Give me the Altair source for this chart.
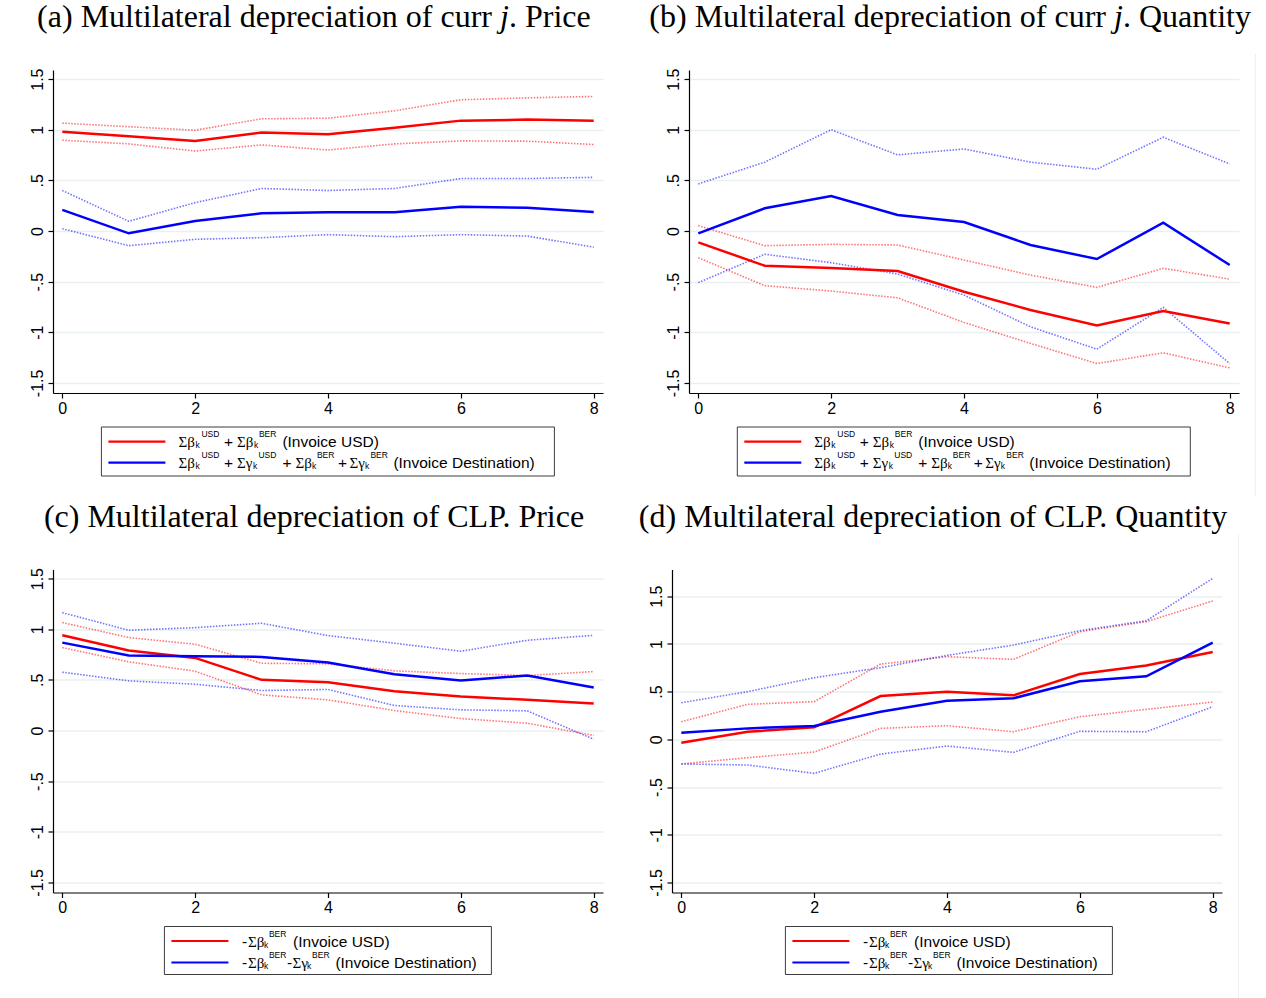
import altair as alt
import pandas as pd

# ---------------------------------------------------------------------------
# Cumulative responses by horizon (k = 0..8) with upper / lower bands
# ---------------------------------------------------------------------------
STEPS = [0, 1, 2, 3, 4, 5, 6, 7, 8]

# (a) multilateral depreciation of currency j, price
A_USD = [0.98, 0.935, 0.89, 0.973, 0.956, 1.02, 1.09, 1.10, 1.09]
A_USD_HI = [1.065, 1.03, 0.995, 1.108, 1.114, 1.187, 1.296, 1.315, 1.329]
A_USD_LO = [0.897, 0.86, 0.79, 0.85, 0.80, 0.86, 0.89, 0.887, 0.854]
A_DST = [0.208, -0.023, 0.099, 0.175, 0.185, 0.185, 0.24, 0.23, 0.188]
A_DST_HI = [0.40, 0.096, 0.28, 0.42, 0.40, 0.42, 0.518, 0.518, 0.53]
A_DST_LO = [0.023, -0.145, -0.082, -0.066, -0.036, -0.056, -0.036, -0.05, -0.16]

# (b) multilateral depreciation of currency j, quantity
B_USD = [-0.112, -0.343, -0.366, -0.396, -0.60, -0.78, -0.933, -0.79, -0.913]
B_USD_HI = [0.053, -0.145, -0.132, -0.138, -0.287, -0.435, -0.557, -0.369, -0.475]
B_USD_LO = [-0.264, -0.54, -0.593, -0.66, -0.903, -1.11, -1.309, -1.203, -1.352]
B_DST = [-0.023, 0.224, 0.346, 0.158, 0.089, -0.138, -0.277, 0.082, -0.336]
B_DST_HI = [0.465, 0.68, 1.0, 0.752, 0.81, 0.68, 0.61, 0.926, 0.663]
B_DST_LO = [-0.51, -0.23, -0.313, -0.425, -0.633, -0.946, -1.167, -0.755, -1.309]

# (c) multilateral depreciation of CLP, price
C_USD = [0.94, 0.79, 0.717, 0.50, 0.477, 0.388, 0.336, 0.303, 0.266]
C_USD_HI = [1.066, 0.918, 0.852, 0.664, 0.658, 0.589, 0.5625, 0.543, 0.582]
C_USD_LO = [0.819, 0.678, 0.586, 0.352, 0.303, 0.197, 0.118, 0.072, -0.049]
C_DST = [0.868, 0.74, 0.734, 0.727, 0.671, 0.556, 0.493, 0.543, 0.424]
C_DST_HI = [1.164, 0.99, 1.016, 1.059, 0.9375, 0.862, 0.783, 0.891, 0.94]
C_DST_LO = [0.576, 0.49, 0.457, 0.395, 0.405, 0.247, 0.204, 0.194, -0.086]

# (d) multilateral depreciation of CLP, quantity
D_USD = [-0.035, 0.08, 0.126, 0.454, 0.50, 0.461, 0.685, 0.775, 0.915]
D_USD_HI = [0.185, 0.367, 0.395, 0.789, 0.866, 0.838, 1.128, 1.233, 1.45]
D_USD_LO = [-0.258, -0.192, -0.133, 0.115, 0.143, 0.08, 0.237, 0.314, 0.391]
D_DST = [0.07, 0.115, 0.14, 0.29, 0.405, 0.43, 0.608, 0.66, 1.013]
D_DST_HI = [0.384, 0.50, 0.646, 0.751, 0.88, 0.988, 1.139, 1.243, 1.687]
D_DST_LO = [-0.258, -0.269, -0.356, -0.154, -0.07, -0.136, 0.084, 0.08, 0.342]

X_TICKS = [0, 2, 4, 6, 8]
Y_TICKS = [-1.5, -1, -0.5, 0, 0.5, 1, 1.5]

# ---------------------------------------------------------------------------
# Styling
# ---------------------------------------------------------------------------
RED = "#ff0000"
BLUE = "#0000ff"
SANS = "Liberation Sans"
SERIF = "Liberation Serif"
W, H = 550, 323
X_DOMAIN = [-0.14, 8.14]
Y_LABEL_EXPR = ("(datum.value < 0 ? '-' : '') + "
                "(abs(datum.value) == 0.5 ? '.5' : toString(abs(datum.value)))")

ONE = pd.DataFrame({"k": [0]})


def long_table(usd, usd_lo, usd_hi, dst, dst_lo, dst_hi):
    rows = []
    for name, band, vals in (("usd", "est", usd), ("usd", "lo", usd_lo),
                             ("usd", "hi", usd_hi), ("dest", "est", dst),
                             ("dest", "lo", dst_lo), ("dest", "hi", dst_hi)):
        for s, v in zip(STEPS, vals):
            rows.append({"step": s, "value": v, "series": name, "band": band})
    return pd.DataFrame(rows)


def data_layers(df, ydom):
    x = alt.X("step:Q",
              scale=alt.Scale(domain=X_DOMAIN, nice=False, zero=False),
              axis=alt.Axis(values=X_TICKS, title=None, grid=False, format="d",
                            labelPadding=2, labelFlush=False))
    y = alt.Y("value:Q",
              scale=alt.Scale(domain=ydom, nice=False, zero=False),
              axis=alt.Axis(values=Y_TICKS, title=None, grid=True,
                            labelExpr=Y_LABEL_EXPR, labelAngle=270,
                            labelAlign="center", labelBaseline="alphabetic",
                            labelPadding=6, labelFlush=False))
    base = alt.Chart(df).encode(x=x, y=y, detail="band:N")
    layers = []
    for series, color in (("usd", RED), ("dest", BLUE)):
        layers.append(
            base.transform_filter(
                f"datum.series == '{series}' && datum.band != 'est'")
            .mark_line(color=color, strokeDash=[1.5, 1.5], strokeWidth=1.6,
                       opacity=0.55))
    for series, color in (("usd", RED), ("dest", BLUE)):
        layers.append(
            base.transform_filter(
                f"datum.series == '{series}' && datum.band == 'est'")
            .mark_line(color=color, strokeWidth=2.5))
    return layers


def txt(s, x, y, size, font=SANS, style="normal", align="left",
        baseline="alphabetic", color="#000000"):
    return alt.Chart(ONE).mark_text(
        text=s, font=font, fontSize=size, fontStyle=style, align=align,
        baseline=baseline, color=color).encode(x=alt.value(x), y=alt.value(y))


def legend(bx, by, bw, bh, rows):
    """Boxed legend; each row is (center offset, colour, text pieces)."""
    out = [alt.Chart(ONE).mark_rect(fill="white", stroke="#3c3c3c",
                                    strokeWidth=1)
           .encode(x=alt.value(bx), x2=alt.value(bx + bw),
                   y=alt.value(by), y2=alt.value(by + bh))]
    for dy, color, pieces in rows:
        r = by + dy
        out.append(alt.Chart(ONE).mark_rule(color=color, strokeWidth=2.2)
                   .encode(x=alt.value(bx + 7), x2=alt.value(bx + 64),
                           y=alt.value(r)))
        for text, dx, kind in pieces:
            if kind == "main":
                out.append(txt(text, bx + dx, r + 5.5, 15.5))
            elif kind == "greek":
                out.append(txt(text, bx + dx, r + 5.5, 15, font=SERIF))
            elif kind == "sup":
                out.append(txt(text, bx + dx, r - 4.5, 8.5))
            else:
                out.append(txt(text, bx + dx, r + 6.5, 8.5))
    return out


def title_italic_j(before, after, split):
    return [txt(before, split - 8, -43, 32, font=SERIF, align="right"),
            txt("j", split, -43, 32, font=SERIF, style="italic"),
            txt(after, split + 9, -43, 32, font=SERIF)]


ROWS_AB = [
    (14.7, RED, [("Σβ", 77, "greek"), ("k", 94, "sub"), ("USD", 100, "sup"),
                 ("+", 122.5, "main"), ("Σβ", 135.5, "greek"),
                 ("k", 152.5, "sub"), ("BER", 157.5, "sup"),
                 ("(Invoice USD)", 181, "main")]),
    (35.7, BLUE, [("Σβ", 77, "greek"), ("k", 94, "sub"), ("USD", 100, "sup"),
                  ("+", 122.5, "main"), ("Σγ", 135.5, "greek"),
                  ("k", 151.5, "sub"), ("USD", 157, "sup"),
                  ("+", 181, "main"), ("Σβ", 194, "greek"),
                  ("k", 210.5, "sub"), ("BER", 215.5, "sup"),
                  ("+", 236.5, "main"), ("Σγ", 248, "greek"),
                  ("k", 263.5, "sub"), ("BER", 269, "sup"),
                  ("(Invoice Destination)", 292, "main")]),
]

ROWS_CD = [
    (14.5, RED, [("-", 77.7, "main"), ("Σβ", 83.5, "greek"), ("k", 99.5, "sub"),
                 ("BER", 104.5, "sup"), ("(Invoice USD)", 128.7, "main")]),
    (36, BLUE, [("-", 77.7, "main"), ("Σβ", 83.5, "greek"), ("k", 99.5, "sub"),
                ("BER", 104.5, "sup"), ("-", 122.7, "main"),
                ("Σγ", 128, "greek"), ("k", 142.7, "sub"),
                ("BER", 147.7, "sup"),
                ("(Invoice Destination)", 171, "main")]),
]


def faint_edge(x, y1, y2):
    return alt.Chart(ONE).mark_rule(color="#eeeeee", strokeWidth=1).encode(
        x=alt.value(x), y=alt.value(y1), y2=alt.value(y2))


# Invisible corner marker that pins the page origin
anchor = alt.Chart(ONE).mark_rect(opacity=0).encode(
    x=alt.value(-52.6), x2=alt.value(-52), y=alt.value(-70), y2=alt.value(-69))

df_a = long_table(A_USD, A_USD_LO, A_USD_HI, A_DST, A_DST_LO, A_DST_HI)
df_b = long_table(B_USD, B_USD_LO, B_USD_HI, B_DST, B_DST_LO, B_DST_HI)
df_c = long_table(C_USD, C_USD_LO, C_USD_HI, C_DST, C_DST_LO, C_DST_HI)
df_d = long_table(D_USD, D_USD_LO, D_USD_HI, D_DST, D_DST_LO, D_DST_HI)

panel_a = alt.layer(
    anchor,
    *data_layers(df_a, [-1.6, 1.59]),
    *legend(48.4, 357, 453, 49, ROWS_AB),
    *title_italic_j("(a) Multilateral depreciation of curr", ". Price", 447),
).properties(width=W, height=H)

panel_b = alt.layer(
    *data_layers(df_b, [-1.6, 1.59]),
    *legend(48.3, 357, 453, 49, ROWS_AB),
    *title_italic_j("(b) Multilateral depreciation of curr", ". Quantity", 425),
    faint_edge(566.3, -16, 426),
).properties(width=W, height=H)

panel_c = alt.layer(
    *data_layers(df_c, [-1.6, 1.59]),
    *legend(111.4, 357, 327, 48, ROWS_CD),
    txt("(c) Multilateral depreciation of CLP. Price", 261, -43, 32,
        font=SERIF, align="center"),
).properties(width=W, height=H)

panel_d = alt.layer(
    *data_layers(df_d, [-1.605, 1.78]),
    *legend(113.4, 357, 327, 48, ROWS_CD),
    txt("(d) Multilateral depreciation of CLP. Quantity", 261, -43, 32,
        font=SERIF, align="center"),
    faint_edge(566.4, -35, 429),
).properties(width=W, height=H)

row1 = alt.hconcat(panel_a, panel_b, spacing=86, bounds="flush").resolve_scale(
    x="independent", y="independent")
row2 = alt.hconcat(panel_c, panel_d, spacing=69, bounds="flush").resolve_scale(
    x="independent", y="independent")

# With flush bounds the rows are stacked by their top edges, so the spacing
# is the full distance from the top of one plot row to the next.
chart = (
    alt.vconcat(row1, row2, spacing=499.5, bounds="flush")
    .resolve_scale(x="independent", y="independent")
    .properties(padding=0, background="white")
    .configure_view(stroke=None)
    .configure_axis(
        domainColor="#000000", domainWidth=1.2,
        tickColor="#000000", tickWidth=1.2, tickSize=5,
        labelColor="#000000", labelFont=SANS, labelFontSize=16,
        gridColor="#e8f0f1", gridWidth=1.5,
        labelOverlap=False, labelBound=False,
    )
)

chart.save("out.html", embed_options={"renderer": "svg", "actions": False})
